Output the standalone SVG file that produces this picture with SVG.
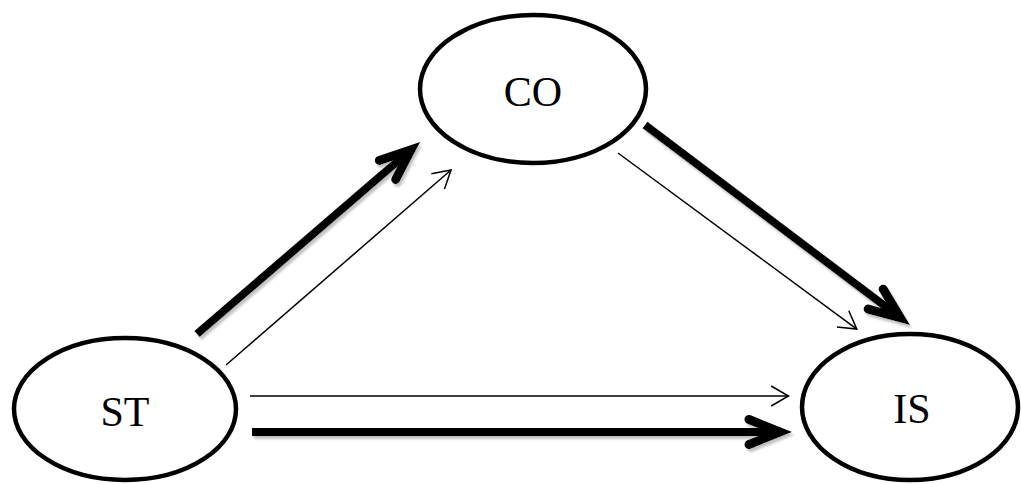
<svg xmlns="http://www.w3.org/2000/svg" width="1021" height="484" viewBox="0 0 1021 484">
  <style>
    .node { fill: #ffffff; stroke: #000000; stroke-width: 4.5; }
    .label { font-family: "Liberation Serif", "Times New Roman", serif; font-size: 42px; fill: #000000; text-anchor: middle; }
    .thin { stroke: #000000; stroke-width: 1.5; fill: none; }
    .thick { stroke: #000000; stroke-width: 8; fill: none; stroke-linecap: butt; }
  </style>
  <defs>
    <marker id="headThin" markerUnits="userSpaceOnUse" orient="auto" refX="0" refY="0" markerWidth="40" markerHeight="40" viewBox="-30 -20 40 40" overflow="visible">
      <path d="M -17.3,-10 L 0,0 L -17.3,10" fill="none" stroke="#000" stroke-width="1.5" stroke-linejoin="miter" stroke-linecap="butt"/>
    </marker>
    <marker id="headThick" markerUnits="userSpaceOnUse" orient="auto" refX="0" refY="0" markerWidth="60" markerHeight="60" viewBox="-40 -30 60 60" overflow="visible">
      <path d="M -31,-12.5 L 0,0 L -31,12.5" fill="none" stroke="#000" stroke-width="9" stroke-linejoin="miter" stroke-linecap="round"/>
    </marker>
    <filter id="shadow" x="-20%" y="-20%" width="140%" height="140%">
      <feGaussianBlur in="SourceAlpha" stdDeviation="1.2" result="b"/>
      <feOffset in="b" dx="2" dy="3" result="o"/>
      <feFlood flood-color="#c4c4c4" result="c"/>
      <feComposite in="c" in2="o" operator="in" result="s"/>
      <feMerge>
        <feMergeNode in="s"/>
        <feMergeNode in="SourceGraphic"/>
      </feMerge>
    </filter>
  </defs>

  <g id="connectors">
    <g id="thick-arrows" filter="url(#shadow)">
      <line class="thick" x1="197" y1="334" x2="411" y2="149.8" marker-end="url(#headThick)"/>
      <line class="thick" x1="645" y1="125" x2="900.4" y2="317.8" marker-end="url(#headThick)"/>
      <line class="thick" x1="252" y1="432" x2="780" y2="432" marker-end="url(#headThick)"/>
    </g>
    <g id="thin-arrows">
      <line class="thin" x1="226" y1="365" x2="451" y2="170" marker-end="url(#headThin)"/>
      <line class="thin" x1="618" y1="153" x2="856.8" y2="329.1" marker-end="url(#headThin)"/>
      <line class="thin" x1="250" y1="396" x2="788.5" y2="396" marker-end="url(#headThin)"/>
    </g>
  </g>

  <g id="node-CO">
    <ellipse class="node" cx="533" cy="89" rx="113" ry="74"/>
    <text class="label" x="533" y="106">CO</text>
  </g>
  <g id="node-ST">
    <ellipse class="node" cx="125" cy="409" rx="111" ry="71"/>
    <text class="label" x="125" y="426">ST</text>
  </g>
  <g id="node-IS">
    <ellipse class="node" cx="910" cy="407" rx="108" ry="73"/>
    <text class="label" x="912" y="423">IS</text>
  </g>
</svg>
